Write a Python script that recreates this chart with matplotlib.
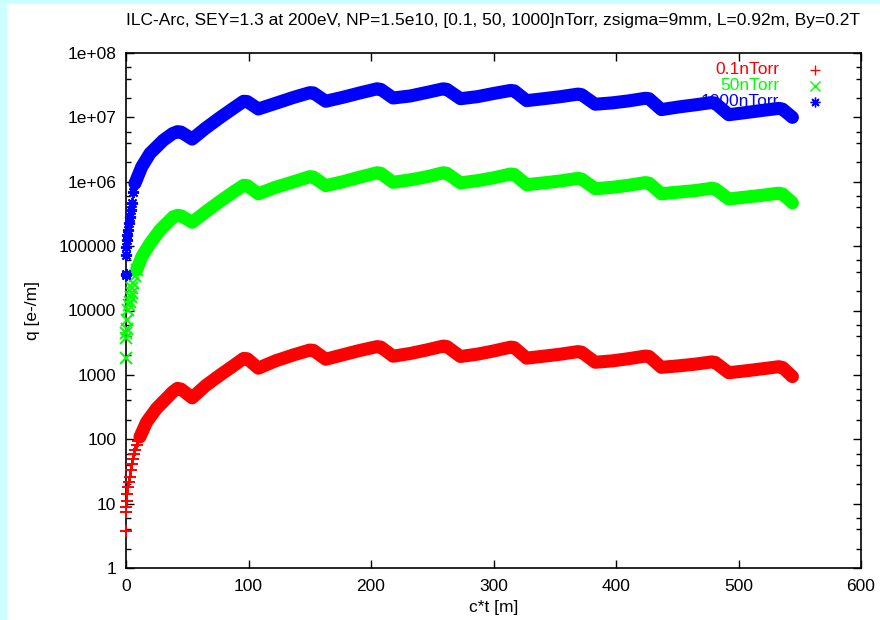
import matplotlib
matplotlib.use("Agg")
import matplotlib.pyplot as plt
from matplotlib.patches import Rectangle
from matplotlib.ticker import LogLocator, FixedLocator, NullFormatter

plt.rcParams['font.family'] = ['Liberation Sans', 'DejaVu Sans']

title = "ILC-Arc, SEY=1.3 at 200eV, NP=1.5e10, [0.1, 50, 1000]nTorr, zsigma=9mm, L=0.92m, By=0.2T"
labels = ["0.1nTorr", "50nTorr", "1000nTorr"]
colors = ["#ff0000", "#00ff00", "#0000ff"]

# early isolated points near ct = 0
red_early_x = [0.0, 0.0, 0.3, 0.5, 1.2, 1.9, 2.6, 3.3, 4.0, 4.7, 5.5, 6.4, 7.3, 8.7, 10.0, 11.4]
red_early_q = [3.7, 7.5, 9, 11, 14, 18, 22, 26, 33, 42, 50, 58, 68, 82, 95, 109]
green_early_x = [0.0, 0.0, 0.3, 0.5, 0.5, 1.9, 2.6, 3.3, 4.0, 4.6, 5.3, 6.0, 7.3, 8.7]
green_early_q = [1800, 3700, 4400, 5200, 7100, 10100, 12000, 13600, 16000, 18400, 22000,
                 26300, 34000, 42500]
blue_early_x = [0.0, 0.0, 0.3, 0.0, 0.5, 1.0, 1.9, 2.6, 3.3, 4.0, 4.6, 6.0, 7.3]
blue_early_q = [35500, 37500, 72000, 98000, 126000, 150000, 178000, 230000, 285000, 360000,
                460000, 700000, 940000]

# main traces
red_x = [11.4, 16.9, 25, 33, 38, 42, 45, 54, 65, 77, 88, 96, 99, 108, 122, 137,
         150, 153, 163, 177, 191, 205, 208, 218, 232, 246, 259, 262, 273, 287, 300, 314, 317,
         327, 341, 355, 369, 372, 383, 397, 410, 424, 427, 437, 451, 465, 478, 481, 492, 505,
         519, 533, 536, 544]
red_q = [109, 186, 302, 431, 540, 617, 600, 440, 680, 1000, 1400, 1800, 1780, 1270,
         1650, 2050, 2430, 2400, 1750, 2050, 2400, 2750, 2700, 1950, 2150, 2450, 2800, 2750,
         1930, 2100, 2350, 2700, 2650, 1820, 1950, 2100, 2300, 2250, 1570, 1650, 1780, 1960,
         1930, 1310, 1380, 1470, 1590, 1560, 1080, 1150, 1240, 1340, 1300, 940]

green_x = [8.7, 12.8, 19.6, 27.8, 38.6, 42, 45, 54, 65, 77, 88, 96, 99, 108,
           122, 137, 150, 153, 163, 177, 191, 205, 208, 218, 232, 246, 259, 262, 273, 287, 300,
           314, 317, 327, 341, 355, 369, 372, 383, 397, 410, 424, 427, 437, 451, 465, 478, 481,
           492, 505, 519, 533, 536, 544]
green_q = [42500, 68000, 110000, 178000, 285000, 300000, 295000, 235000,
           340000, 500000, 700000, 880000, 870000, 650000, 820000, 1.0e6, 1.2e6, 1.18e6,
           870000, 1.0e6, 1.18e6, 1.38e6, 1.35e6, 980000, 1.07e6, 1.2e6, 1.38e6, 1.35e6,
           960000, 1.04e6, 1.15e6, 1.32e6, 1.3e6, 900000, 960000, 1.03e6, 1.13e6, 1.1e6,
           780000, 820000, 880000, 970000, 950000, 650000, 690000, 730000, 790000, 775000,
           540000, 575000, 615000, 665000, 645000, 470000]

blue_x = [7.3, 12.8, 19.6, 30.4, 38, 42, 45, 54, 65, 77, 88, 96, 99, 108, 122, 137,
          150, 153, 163, 177, 191, 205, 208, 218, 232, 246, 259, 262, 273, 287, 300, 314, 317,
          327, 341, 355, 369, 372, 383, 397, 410, 424, 427, 437, 451, 465, 478, 481, 492, 505,
          519, 533, 536, 544]
blue_q = [940000, 1.7e6, 2.76e6, 4.4e6, 5.6e6, 6.0e6, 5.9e6, 4.6e6, 6.8e6,
          1.0e7, 1.4e7, 1.78e7, 1.76e7, 1.35e7, 1.65e7, 2.05e7, 2.42e7, 2.4e7, 1.78e7, 2.05e7,
          2.4e7, 2.78e7, 2.72e7, 2.0e7, 2.15e7, 2.45e7, 2.78e7, 2.72e7, 1.95e7, 2.1e7, 2.35e7,
          2.62e7, 2.58e7, 1.82e7, 1.95e7, 2.1e7, 2.3e7, 2.25e7, 1.6e7, 1.68e7, 1.8e7, 1.98e7,
          1.95e7, 1.32e7, 1.45e7, 1.57e7, 1.7e7, 1.66e7, 1.1e7, 1.18e7, 1.28e7, 1.38e7, 1.34e7,
          1.0e7]

xticks = [0, 100, 200, 300, 400, 500, 600]
yticks = [1, 10, 100, 1000, 10000, 100000, 1e6, 1e7, 1e8]
yticklabels = ["1", "10", "100", "1000", "10000", "100000", "1e+06", "1e+07", "1e+08"]

fig = plt.figure(figsize=(8.8, 6.2), dpi=100)
fig.patch.set_facecolor("white")
cyan = "#ccffff"
fig.patches.append(Rectangle((0, 0), 7 / 880, 1, transform=fig.transFigure,
                             facecolor=cyan, edgecolor="none", zorder=0))
fig.patches.append(Rectangle((0, 1 - 4 / 620), 1, 4 / 620, transform=fig.transFigure,
                             facecolor=cyan, edgecolor="none", zorder=0))

ax = fig.add_axes([126 / 880, 1 - 568 / 620, 735 / 880, 515 / 620])
ax.set_yscale("log")
ax.set_xlim(0, 600)
ax.set_ylim(1, 1e8)

series = [
    (red_early_x, red_early_q, red_x, red_q, "+"),
    (green_early_x, green_early_q, green_x, green_q, "x"),
    (blue_early_x, blue_early_q, blue_x, blue_q, (8, 2, 0)),
]

fs = 12.5
# legend (drawn beneath the data, as in the reference)
leg_y = [0.967, 0.936, 0.905]
for (ex, eq, bx, bq, mk), lab, col, ly in zip(series, labels, colors, leg_y):
    ax.text(0.889, ly, lab, transform=ax.transAxes, ha="right", va="center",
            color=col, fontsize=fs, zorder=1)
    ax.plot([0.9374], [ly], transform=ax.transAxes, marker=mk, color=col,
            ms=7, mew=1.0, ls="none", zorder=1, clip_on=False)

for (ex, eq, bx, bq, mk), col, z in zip(series, colors, [3, 4, 5]):
    ax.plot(bx, bq, color=col, lw=9.4, solid_joinstyle="round", solid_capstyle="round",
            zorder=z)
    ax.plot(ex, eq, ls="none", marker=mk, color=col, ms=8, mew=1.4, zorder=z,
            clip_on=False)

ax.xaxis.set_major_locator(FixedLocator(xticks))
ax.set_xticklabels([str(t) for t in xticks])
ax.yaxis.set_major_locator(FixedLocator(yticks))
ax.set_yticklabels(yticklabels)
ax.yaxis.set_minor_locator(LogLocator(base=10, subs=(2.0, 4.0, 6.0)))
ax.yaxis.set_minor_formatter(NullFormatter())

ax.tick_params(axis="both", which="major", direction="in", length=6, width=1,
               top=True, right=True, labelsize=fs, colors="black")
ax.tick_params(axis="y", which="major", pad=7)
ax.tick_params(axis="x", which="major", pad=8)
ax.tick_params(axis="y", which="minor", direction="in", length=3.5, width=1,
               left=True, right=True)
for sp in ax.spines.values():
    sp.set_linewidth(1.2)

ax.set_xlabel("c*t [m]", fontsize=fs, labelpad=4)
ax.set_ylabel("q [e-/m]", fontsize=fs, labelpad=13)
fig.text(493 / 880, 1 - 20 / 620, title, ha="center", va="center", fontsize=fs)

fig.savefig("out.png", dpi=100, facecolor=fig.get_facecolor())
